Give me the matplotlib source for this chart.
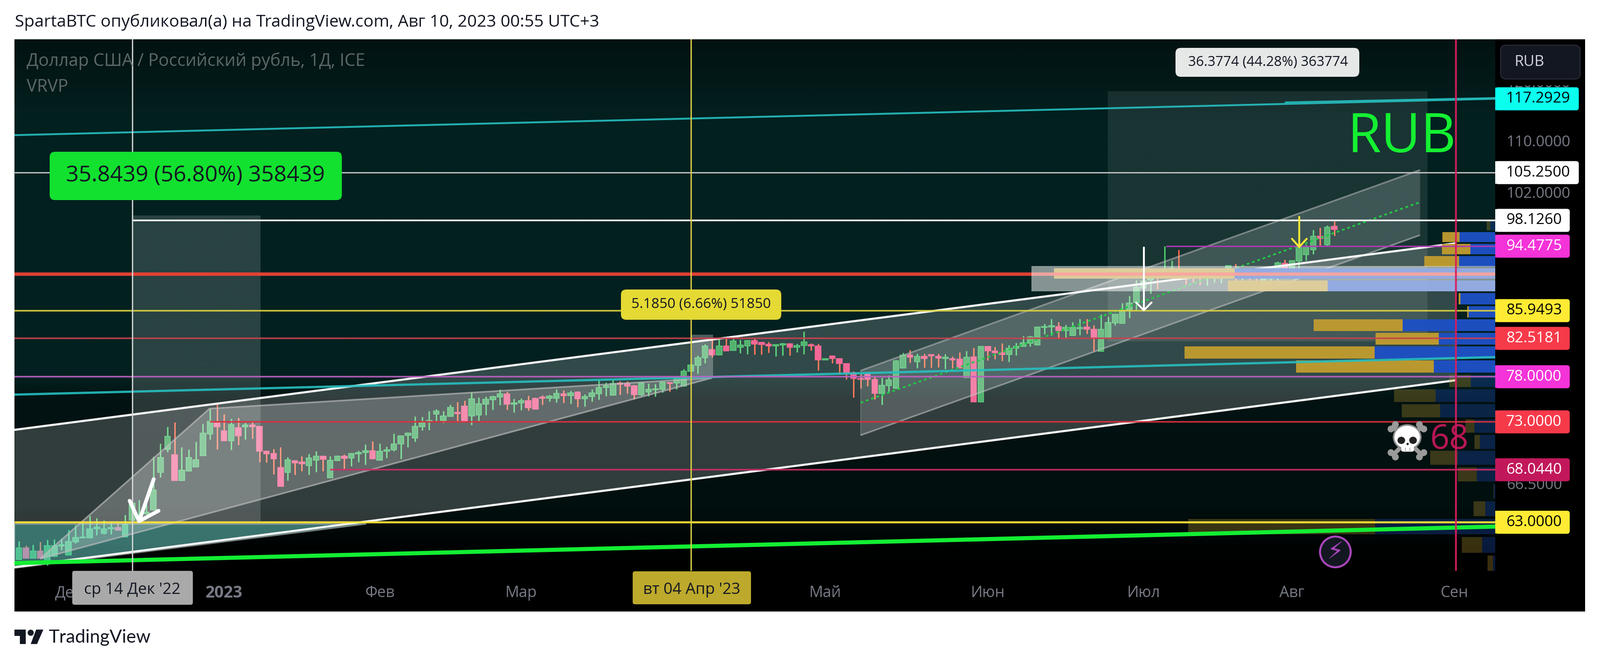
import numpy as np
import matplotlib
matplotlib.use("Agg")
import matplotlib.pyplot as plt
from matplotlib.patches import FancyBboxPatch, Rectangle, Circle, Polygon, Ellipse
from matplotlib.colors import LinearSegmentedColormap

opens = [59.63,60.67,59.77,60.39,59.5,59.93,60.84,60.03,61.2,61.56,
61.57,62.39,61.99,62.39,62.53,61.67,63.18,63.64,63.79,64.17,
67.76,70.13,69.56,66.99,67.93,68.32,69.47,71.73,72.93,72.05,
71.02,72.37,72.49,72.65,72.52,69.93,69.69,68.29,67.76,68.98,
68.83,68.48,69.0,69.44,67.25,68.98,69.44,69.24,69.67,69.77,
69.98,69.01,69.91,70.07,70.66,71.55,71.27,72.49,73.1,73.81,
73.14,73.6,74.02,74.72,73.62,73.72,74.93,75.42,75.72,76.05,
74.92,75.08,75.3,75.55,75.72,75.58,75.58,76.05,75.85,76.25,
75.52,75.78,76.08,76.78,75.93,77.3,77.25,76.97,75.97,76.28,
76.5,76.58,77.35,77.27,76.95,78.62,79.29,80.2,81.19,80.52,
81.62,81.05,81.46,81.63,82.25,82.02,81.81,81.63,81.74,81.86,
81.47,81.67,81.77,81.62,79.96,80.4,80.13,79.5,78.49,77.82,
78.34,77.72,76.13,76.97,76.68,78.99,80.54,79.72,80.39,80.57,
80.36,80.11,80.11,80.04,77.93,80.3,75.18,81.56,81.03,80.78,
80.57,81.33,81.55,81.95,81.69,83.85,83.91,83.98,83.46,82.84,
83.7,83.89,83.65,80.96,82.61,84.41,84.35,86.03,86.94,88.83,
89.9,91.06,90.18,91.06,91.36,91.22,90.72,90.82,90.22,90.26,
90.42,90.42,90.92,90.66,91.06,90.52,89.27,90.1,90.52,92.11,
91.22,92.41,93.31,93.98,95.89,94.69,97.25]

closes = [60.67,59.77,60.39,59.74,60.86,60.86,60.96,61.24,61.6,61.67,
62.41,62.57,62.41,62.53,62.27,62.81,64.81,63.74,63.94,66.07,
69.28,71.48,66.99,68.01,69.28,69.03,71.81,73.03,72.49,71.02,
72.7,71.5,72.65,72.49,69.93,69.67,69.14,66.38,69.03,68.73,
68.65,69.23,69.41,69.11,69.0,69.44,69.19,69.69,69.79,69.97,
69.14,69.93,70.05,70.68,71.53,71.81,72.52,72.93,73.14,74.2,
73.63,74.55,73.88,73.05,75.52,74.97,75.47,75.77,76.05,74.92,
75.08,75.3,74.52,74.38,75.55,75.8,76.1,75.88,76.18,75.53,
75.75,76.17,76.8,76.97,77.22,77.13,76.93,75.97,77.3,76.55,
76.63,77.38,77.22,77.97,78.63,79.34,80.22,81.62,80.52,81.62,
81.02,82.2,81.72,82.25,81.84,81.79,81.6,81.77,81.88,81.46,
81.65,82.09,81.58,79.94,80.1,80.1,79.52,78.44,77.78,77.68,
77.68,76.13,77.02,77.67,79.82,80.54,80.27,80.39,80.09,80.45,
80.15,80.25,79.97,78.99,80.25,75.18,81.56,81.0,80.78,80.59,
81.33,81.56,81.99,82.71,83.89,83.98,84.06,83.46,83.87,83.87,
83.87,83.63,82.61,83.65,84.45,85.51,86.0,86.9,88.93,89.8,
91.08,90.82,91.36,91.48,91.06,90.42,90.52,90.16,90.42,90.54,
90.82,91.82,90.62,90.82,90.58,90.3,90.08,90.52,92.17,91.26,
92.47,94.34,94.4,95.89,95.57,97.17,96.8]

highs = [61.27,60.89,60.96,61.2,61.39,61.46,61.53,62.3,62.77,62.91,
63.59,63.38,63.18,62.96,62.96,63.68,64.81,65.11,64.78,69.36,
70.73,72.47,72.98,70.35,70.13,70.92,72.79,74.42,75.04,73.84,
73.33,73.42,72.9,73.07,72.52,70.02,70.15,70.35,69.33,68.98,
69.41,69.66,69.93,69.44,69.44,69.49,69.6,69.74,69.98,70.63,
70.97,70.73,70.38,71.75,71.58,71.91,73.6,73.55,74.18,74.39,
74.16,74.87,75.17,75.3,76.25,75.67,75.77,75.88,76.55,76.3,
75.52,75.55,75.88,75.68,75.92,75.97,76.55,76.47,76.43,76.38,
76.0,76.55,77.67,77.35,77.72,77.5,77.5,77.08,77.38,77.25,
77.18,77.42,77.38,78.05,78.9,80.17,80.49,81.81,82.64,82.43,
82.46,82.46,82.37,82.32,82.46,82.11,82.07,81.81,81.99,81.9,
81.86,83.34,81.93,81.86,80.13,80.5,80.17,79.55,78.62,78.32,
78.46,78.05,77.88,78.14,79.94,80.8,81.1,80.71,80.68,80.62,
80.71,80.66,80.39,80.84,81.03,81.39,81.56,81.56,81.51,81.95,
81.69,81.99,82.82,82.88,83.89,84.28,84.89,84.54,84.2,84.54,
84.92,84.89,84.12,85.49,85.2,85.55,86.9,87.85,89.9,90.6,
91.3,91.32,94.46,92.47,93.97,91.26,91.02,91.38,90.82,90.82,
91.32,91.82,92.06,91.42,91.32,90.92,90.42,90.92,92.35,92.61,
92.47,94.34,94.71,96.78,97.06,97.38,98.02]

lows = [59.63,59.77,59.77,59.74,59.13,59.89,60.46,60.03,61.1,61.56,
61.57,61.81,61.89,61.89,62.27,61.64,63.18,63.18,63.79,64.17,
67.28,69.85,66.99,66.99,67.93,68.32,69.47,71.12,70.13,71.02,
70.05,70.56,71.12,71.25,68.81,68.78,67.58,66.38,66.98,67.55,
67.93,67.55,67.81,67.92,67.25,68.98,68.12,68.4,68.81,68.54,
69.14,69.01,69.24,69.93,69.16,70.35,70.92,72.07,72.16,73.1,
72.9,73.6,73.05,73.05,72.68,73.08,73.72,74.33,74.83,74.33,
74.02,74.28,74.22,74.38,74.88,75.22,75.13,75.05,74.97,74.63,
74.68,75.22,75.42,75.83,75.93,75.97,76.13,75.47,75.88,75.8,
75.77,76.22,76.32,76.58,76.95,78.62,78.35,79.55,80.26,80.52,
81.02,81.05,80.73,80.65,80.59,80.61,80.79,80.35,80.47,80.47,
80.87,80.63,81.05,78.72,79.92,79.55,78.26,77.68,75.68,76.68,
76.92,75.47,74.88,76.25,76.68,78.99,79.65,78.98,79.03,79.03,
79.08,78.89,78.98,78.99,77.93,75.18,75.18,79.91,80.04,79.86,
79.74,80.48,81.55,81.55,81.69,83.05,82.88,82.48,82.56,82.84,
82.9,83.09,81.03,80.96,82.61,84.13,84.35,85.05,86.05,88.13,
88.1,88.73,90.18,90.12,89.9,89.33,89.63,89.23,89.19,89.63,
89.47,90.22,89.85,89.42,89.57,89.27,89.07,89.43,89.43,90.22,
91.02,91.42,92.51,93.36,94.5,94.57,95.93]

# Visible-range volume profile, rows from the lowest price upward
vp_price = [59.30,60.96,62.61,64.27,65.92,67.58,69.24,70.89,72.55,74.20,75.86,77.52,
            79.17,80.83,82.48,84.14,85.80,87.45,89.11,90.76,92.42,94.07,95.73,97.38]
vp_blue  = [5,29,266,22,3,41,83,34,46,122,132,54,136,267,125,205,59,77,371,577,80,55,79,11]
vp_gold  = [12,45,414,26,1,42,61,12,20,85,92,48,305,421,140,197,3,4,221,400,77,63,38,8]
vp_bright = [0,0,0,0,0,0,0,0,0,0,0,0,1,1,1,1,1,1,1,1,1,1,1,0]

# Horizontal levels: price, first bar, colour
level_prices = [105.25,98.126,94.4775,90.70,85.9493,82.5181,78.0,73.0,68.044,63.0]
level_starts = [-0.65,16.0,162.2,-0.65,-0.65,-0.65,-0.65,27.0,44.0,-0.65]
level_colors = ['#c9c9c9','#ffffff','#b33ab8','#f44336','#dfd33e','#c8424f','#bd62c2','#d8323f','#cf2c68','#ffeb3b']
level_widths = [2.4,3.0,2.6,6.0,2.8,2.8,2.8,2.8,2.8,3.6]

price_labels = ['117.2929','105.2500','98.1260','94.4775','85.9493','82.5181','78.0000','73.0000','68.0440','63.0000']
label_values = [117.2929,105.25,98.126,94.4775,85.9493,82.5181,78.0,73.0,68.044,63.0]
label_bg = ['#0affef','#ffffff','#ffffff','#f433d8','#ffeb33','#f73a4a','#f433d8','#f73a4a','#c2185b','#ffeb33']
label_fg = ['#000000','#000000','#000000','#ffffff','#000000','#ffffff','#ffffff','#ffffff','#ffffff','#000000']
grey_ticks = [120.0,110.0,102.0,66.5]
month_pos = [7,29,51,71,94.4,114,137,159,180,203]
month_names = ['Дек','2023','Фев','Мар','Апр','Май','Июн','Июл','Авг','Сен']

W, H = 3543, 1468
L, R, T, B = 32, 3311, 87, 1264
XMIN, XMAX = -0.645, 208.75
YMIN, YMAX = 58.66, 128.0
BAR_PX = 15.66

fig = plt.figure(figsize=(W/100, H/100), dpi=100, facecolor='white')
plt.rcParams['font.family'] = 'Open Sans'

def rect(l, t, r, b):
    return [l/W, 1-b/H, (r-l)/W, (b-t)/H]

black = fig.add_axes(rect(L, T, 3510, 1354), zorder=0)
black.set_facecolor('black'); black.set_xticks([]); black.set_yticks([])
for s in black.spines.values():
    s.set_visible(False)

bg = fig.add_axes(rect(L, T, R, B), zorder=1)
stops = [(0,(2,18,18)),(173/1177,(2,32,31)),(750/1177,(2,32,31)),(795/1177,(2,18,18)),
         (1040/1177,(2,15,15)),(1125/1177,(0,3,3)),(1,(0,0,0))]
cm = LinearSegmentedColormap.from_list('bgc', [(p, tuple(v/255 for v in c)) for p, c in stops])
bg.imshow(np.linspace(0, 1, 512)[:, None], aspect='auto', cmap=cm, vmin=0, vmax=1)
bg.axis('off')

ax = fig.add_axes(rect(L, T, R, B), zorder=2)
ax.set_facecolor('none')
ax.set_yscale('log')
ax.set_xlim(XMIN, XMAX); ax.set_ylim(YMIN, YMAX)
ax.set_yticks([]); ax.minorticks_off()
ax.yaxis.set_minor_locator(matplotlib.ticker.NullLocator())
for s in ax.spines.values():
    s.set_visible(False)

# Candles
idx = np.arange(len(opens))
o, c, h, l = map(np.array, (opens, closes, highs, lows))
up = c >= o
ax.vlines(idx[up], l[up], h[up], color='#37c95a', lw=2.3, zorder=3)
ax.vlines(idx[~up], l[~up], h[~up], color='#ff5a36', lw=2.3, zorder=3)
ax.bar(idx[up], (c-o)[up], bottom=o[up], width=0.8, color='#2d9f4e', edgecolor='#33c15b', lw=1.2, zorder=4)
ax.bar(idx[~up], (o-c)[~up], bottom=c[~up], width=0.8, color='#f0477f', edgecolor='#f7447d', lw=1.2, zorder=4)

def seg(xs, ys, **k):
    ax.plot(xs, ys, solid_capstyle='butt', **k)

# Position-tool shaded rectangles
pos_x0 = [16.0, 95.0, 153.95]; pos_x1 = [34.15, 98.13, 199.15]
pos_lo = [63.1, 77.87, 82.16]; pos_hi = [98.87, 82.98, 118.6]
pos_alpha = [0.155, 0.28, 0.09]
for a, b, lo, hi, al in zip(pos_x0, pos_x1, pos_lo, pos_hi, pos_alpha):
    ax.fill_between([a, b], lo, hi, color='white', alpha=al, lw=0, zorder=5)

# Large parallel channel
chan_x = [-0.65, 203.2]
chan_top = [72.15, 94.88]
chan_bot = [58.98, 77.6]
ax.fill_between(chan_x, chan_bot, chan_top, color='white', alpha=0.19, lw=0, zorder=5)
seg(chan_x, chan_top, color='#f5f5f5', lw=3.4, zorder=8)
seg(chan_x, chan_bot, color='#f5f5f5', lw=3.4, zorder=8)

# Rising wedge polygon on the left
wedge_x = [2.99, 26.94, 97.0, 98.0]
wedge_y = [59.72, 74.43, 77.82, 77.87]
ax.fill(wedge_x, wedge_y, facecolor=(1,1,1,0.24), edgecolor=(0.75,0.75,0.75,0.65), lw=2.6, zorder=6)

# Second rising channel with dashed mid line
c2_x = [119.0, 198.1]
c2_top = [78.7, 105.65]
c2_mid = [75.08, 100.78]
c2_bot = [71.58, 96.02]
ax.fill_between(c2_x, c2_bot, c2_top, color='white', alpha=0.17, lw=0, zorder=6)
seg(c2_x, c2_top, color='#c0c0c0', alpha=0.55, lw=2.6, zorder=6)
seg(c2_x, c2_bot, color='#c0c0c0', alpha=0.55, lw=2.6, zorder=6)
seg([119.0, 119.0], [71.58, 78.7], color='#c0c0c0', alpha=0.3, lw=1.5, zorder=6)
ax.plot(c2_x, c2_mid, color='#22c745', lw=2.8, ls=(0, (1.6, 1.6)), zorder=7)

# Teal triangle bottom left
tri_x = [-0.65, 49.1, -0.65]
tri_y = [62.85, 62.85, 58.9]
ax.fill(tri_x, tri_y, facecolor=(0.3,0.85,0.8,0.38), edgecolor=(0.75,0.75,0.75,0.6), lw=2.4, zorder=5)

# Volume profile, drawn from the right edge of the pane
vblue, vgold, vb = map(np.array, (vp_blue, vp_gold, vp_bright))
vp_p = np.array(vp_price)
for mask, gold, blue, a in (((vb == 1), '#bf9b30', '#1e50c4', 0.97), ((vb == 0), '#b8962e', '#1e4fc0', 0.31)):
    wb = vblue[mask]/BAR_PX
    wg = vgold[mask]/BAR_PX
    hgt = np.full(wb.shape, 1.42)
    ax.barh(vp_p[mask], wb, left=XMAX-wb, height=hgt, color=blue, alpha=a, lw=0, zorder=9)
    ax.barh(vp_p[mask], wg, left=XMAX-wb-wg, height=hgt, color=gold, alpha=a, lw=0, zorder=9)

# Sloped lines
seg([-0.65, 208.75], [75.98, 80.28], color='#27bfc0', lw=3.6, alpha=0.9, zorder=10)
seg([-0.65, 208.75], [111.2, 117.3], color='#27bfc0', lw=3.0, alpha=0.9, zorder=10)
seg([179.0, 208.75], [116.7, 117.45], color='#27bfc0', lw=2.4, alpha=0.9, zorder=10)
seg([-0.65, 208.75], [59.33, 62.6], color='#13ee33', lw=6.6, zorder=10)

# Horizontal levels
for p, s, col, lw_ in zip(level_prices, level_starts, level_colors, level_widths):
    seg([s, XMAX], [p, p], color=col, lw=lw_*0.9, alpha=0.92, zorder=11)

# Value-area highlight rectangle
ax.fill_between([143.16, XMAX], 88.44, 91.79, color='white', alpha=0.52, lw=0, zorder=12)

# Vertical markers
ax.axvline(16.02, color='#d8dcdc', lw=2.2, alpha=0.9, zorder=13)
ax.axvline(95.0, color='#dcd246', lw=2.2, alpha=0.95, zorder=13)
ax.axvline(203.2, color='#d81e5b', lw=3.0, alpha=0.92, zorder=13)

# Arrows
arrow_defs = [
    ([19.05, 16.98], [67.12, 63.1], [15.64, 16.98, 19.73], [65.02, 63.1, 64.07], 'white', 6.0),
    ([159.06, 159.06], [94.32, 86.0], [157.97, 159.06, 160.15], [86.98, 86.0, 86.98], 'white', 3.0),
    ([181.03, 181.03], [98.67, 94.38], [180.0, 181.03, 182.1], [95.51, 94.38, 95.51], '#ffe93b', 3.0),
]
for tx, ty, hx, hy, col, lw_ in arrow_defs:
    ax.plot(tx, ty, color=col, lw=lw_, solid_capstyle='round', zorder=14)
    ax.plot(hx, hy, color=col, lw=lw_, solid_capstyle='round', solid_joinstyle='round', zorder=14)

# Time axis
ax.set_xticks(month_pos)
ax.set_xticklabels(month_names, fontsize=24.5, color='#787b86')
ax.get_xticklabels()[1].set_fontweight('bold')
ax.get_xticklabels()[1].set_fontsize(26)
ax.tick_params(axis='x', length=0, pad=23)

# Overlay in figure pixels for labels
ov = fig.add_axes([0, 0, 1, 1], zorder=5)
ov.set_xlim(0, W); ov.set_ylim(H, 0); ov.axis('off'); ov.patch.set_alpha(0)

def ypx(p):
    return H - ax.transData.transform((0, p))[1]

def box(x0, y0, x1, y1, color, rad=10, ec='none', lw=0, z=3, alpha=1):
    ov.add_patch(FancyBboxPatch((x0+rad, y0+rad), x1-x0-2*rad, y1-y0-2*rad,
                 boxstyle=f'round,pad={rad},rounding_size={rad}', fc=color, ec=ec, lw=lw, zorder=z, alpha=alpha))

ov.text(33, 49, 'SpartaBTC опубликовал(а) на TradingView.com, Авг 10, 2023 00:55 UTC+3',
        fontsize=26.9, color='#131722', va='center', ha='left')
ov.text(59, 136, 'Доллар США / Российский рубль, 1Д, ICE', fontsize=27.5, color='#5d6868', va='center')
ov.text(59, 193, 'VRVP', fontsize=27.5, color='#5d6868', va='center')

# Position labels
box(110, 336, 757, 443, '#12e12f', rad=12)
ov.text(433, 389, '35.8439 (56.80%) 358439', fontsize=35.6, color='#131722', ha='center', va='center', zorder=4)
box(1375, 641, 1730, 708, '#e5d934', rad=12)
ov.text(1552, 674, '5.1850 (6.66%) 51850', fontsize=22.5, color='#131722', ha='center', va='center', zorder=4)
box(2603, 106, 3010, 170, '#e6e8e8', rad=12)
ov.text(2808, 138, '36.3774 (44.28%) 363774', fontsize=22, color='#131722', ha='center', va='center', zorder=4)

ov.text(3224, 291, 'RUB', fontsize=87, color='#14f032', ha='right', va='center_baseline', zorder=4)

# Skull and crossbones label
ov.text(3116, 976, '\u2620', fontsize=44, family='DejaVu Sans', color='#9a9a9a', ha='center', va='center', zorder=4)
for (x0, y0, x1, y1) in [(3085,945,3148,1007), (3148,945,3085,1007)]:
    ov.plot([x0, x1], [y0, y1], color='#9a9a9a', lw=7, solid_capstyle='round', zorder=4)
    dx, dy = (x1-x0)/63*7, (y1-y0)/62*7
    for cx, cy in [(x0-dy*0.7, y0+dx*0.7), (x0+dy*0.7, y0-dx*0.7), (x1-dy*0.7, y1+dx*0.7), (x1+dy*0.7, y1-dx*0.7)]:
        ov.add_patch(Circle((cx, cy), 7.5, fc='#9a9a9a', ec='none', zorder=4))
ov.add_patch(Ellipse((3116, 968), 60, 54, fc='white', ec='#8e8e8e', lw=2.5, zorder=5))
ov.add_patch(FancyBboxPatch((3103, 985), 28, 15, boxstyle='round,pad=0,rounding_size=4', fc='white', ec='none', zorder=5))
for ex in (3103, 3129):
    ov.add_patch(Ellipse((ex, 975), 17, 16, fc='#222222', ec='none', zorder=6))
ov.add_patch(Circle((3117, 983), 2.6, fc='#222222', ec='none', zorder=6))
for tx in (3112, 3122):
    ov.plot([tx, tx], [992, 1000], color='#b5b5b5', lw=1.4, zorder=6)
ov.text(3210, 974, '68', fontsize=54, color='#c2185b', ha='center', va='center', zorder=4, alpha=0.95)

# Lightning badge
ov.add_patch(Circle((2957, 1222), 34, fc='#131722', ec='#ab47bc', lw=3.2, zorder=4))
ov.text(2957, 1222, '\u26a1', fontsize=38, family='DejaVu Sans', color='#ab47bc', ha='center', va='center', zorder=5)

# Price scale
for p in grey_ticks:
    ov.text(3336, ypx(p), f'{p:.4f}', fontsize=24, color='#787b86', va='center', ha='left', zorder=2)
ov.add_patch(Rectangle((3311, 88), 199, 101, fc='black', ec='none', zorder=2.5))
for txt, p, col, fg in zip(price_labels, label_values, label_bg, label_fg):
    y = ypx(p)
    x1 = 3496 if len(txt) > 7 else 3476
    ov.add_patch(Rectangle((3311, y-25), 12, 50, fc=col, ec='none', zorder=3))
    box(3311, y-25.5, x1, y+25.5, col, rad=6)
    ov.text(3335, y, txt, fontsize=24, color=fg, va='center', ha='left', zorder=4)

# Currency button
box(3323, 100, 3499, 175, '#131722', rad=12, ec='#2a2e39', lw=1.5)
ov.text(3354, 137, 'RUB', fontsize=24, color='#d1d4dc', va='center', ha='left', zorder=4)

# Crosshair time labels
box(160, 1264, 427, 1339, '#a9a9a9', rad=5)
ov.text(293, 1306, "ср 14 Дек '22", fontsize=25, color='#131722', ha='center', va='center', zorder=4)
box(1401, 1265, 1663, 1338, '#bda92c', rad=5)
ov.text(1532, 1306, "вт 04 Апр '23", fontsize=25, color='#131722', ha='center', va='center', zorder=4)

# TradingView wordmark
ov.add_patch(Polygon([(32,1394),(57,1394),(57,1426),(44,1426),(44,1408),(32,1408)], fc='#131722', ec='none', zorder=4))
ov.add_patch(Circle((68,1401), 6.8, fc='#131722', ec='none', zorder=4))
ov.add_patch(Polygon([(80,1394),(96,1394),(82,1426),(68,1426)], fc='#131722', ec='none', zorder=4))
ov.text(107, 1412, 'TradingView', fontsize=29.3, family='Lato', color='#131722', va='center', ha='left', zorder=4)

fig.savefig('out.png', dpi=100, facecolor='white')
